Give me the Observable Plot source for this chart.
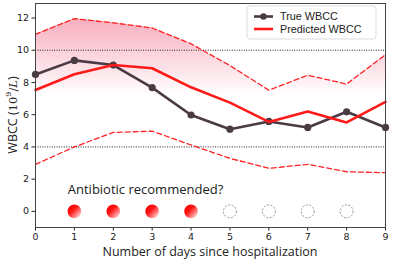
<!DOCTYPE html>
<html>
<head>
<meta charset="utf-8">
<script src="https://cdn.jsdelivr.net/npm/d3@7"></script>
<script src="https://cdn.jsdelivr.net/npm/@observablehq/plot@0.6"></script>
<style>
  html, body { margin: 0; padding: 0; background: #fff; }
  #chart svg { display: block; }
</style>
</head>
<body>
<div id="chart"></div>
<script>
const days = [0, 1, 2, 3, 4, 5, 6, 7, 8, 9];
const trueWBCC = [8.5, 9.37, 9.08, 7.68, 5.98, 5.1, 5.58, 5.21, 6.18, 5.21];
const predWBCC = [7.53, 8.51, 9.08, 8.88, 7.7, 6.75, 5.55, 6.2, 5.52, 6.8];
const upperBound = [10.99, 11.96, 11.7, 11.38, 10.4, 9.05, 7.52, 8.45, 7.9, 9.72];
const lowerBound = [2.92, 4.0, 4.9, 4.98, 4.12, 3.29, 2.67, 2.92, 2.46, 2.4];
const recDays = [1, 2, 3, 4, 5, 6, 7, 8];
const recommended = [true, true, true, true, false, false, false, false];
const thresholds = [10, 4];
const xTicks = [0, 1, 2, 3, 4, 5, 6, 7, 8, 9];
const yTicks = [0, 2, 4, 6, 8, 10, 12];

const rows = days.map((d, i) => ({day: d, t: trueWBCC[i], p: predWBCC[i], hi: upperBound[i], lo: lowerBound[i]}));
const recRows = recDays.map((d, i) => ({day: d, rec: recommended[i]}));

const plot = Plot.plot({
  width: 416,
  height: 260,
  marginLeft: 35,
  marginRight: 31,
  marginTop: 3,
  marginBottom: 33,
  style: {fontFamily: "DejaVu Sans", fontSize: "9.5px", color: "#222", background: "#fff"},
  x: {domain: [0, 9], ticks: xTicks, tickSize: 3.5, tickPadding: 2, label: null},
  y: {domain: [-1, 12.9], ticks: yTicks, tickSize: 3.5, tickPadding: 3, label: null},
  marks: [
    Plot.areaY(rows, {x: "day", y1: "lo", y2: "hi", fill: "url(#pinkGrad)"}),
    Plot.ruleY(thresholds, {stroke: "#222", strokeWidth: 1, strokeDasharray: "1,1.4"}),
    Plot.lineY(rows, {x: "day", y: "hi", stroke: "#ff2222", strokeWidth: 1.3, strokeDasharray: "5,3"}),
    Plot.lineY(rows, {x: "day", y: "lo", stroke: "#ff2222", strokeWidth: 1.3, strokeDasharray: "5,3"}),
    Plot.lineY(rows, {x: "day", y: "t", stroke: "#4a3a44", strokeWidth: 2.6}),
    Plot.dot(rows, {x: "day", y: "t", r: 3.6, fill: "#4a3a44"}),
    Plot.lineY(rows, {x: "day", y: "p", stroke: "#ff1a1a", strokeWidth: 2.6}),
    Plot.text(["Antibiotic recommended?"], {x: 0.83, y: 1.35, text: d => d, textAnchor: "start", fontSize: 13, fontFamily: "Open Sans", fill: "#222"}),
    Plot.dot(recRows.filter(d => d.rec), {x: "day", y: 0, r: 6.8, fill: "url(#redGrad)"}),
    Plot.dot(recRows.filter(d => !d.rec), {x: "day", y: 0, r: 6.5, fill: "none", stroke: "#888", strokeWidth: 0.9, strokeDasharray: "2,1.5"}),
    Plot.frame({stroke: "#444", strokeWidth: 1})
  ]
});

const svg = d3.select(plot);
const ys = plot.scale("y");
const defs = svg.insert("defs", ":first-child");
const pg = defs.append("linearGradient").attr("id", "pinkGrad")
  .attr("gradientUnits", "userSpaceOnUse")
  .attr("x1", 0).attr("x2", 0)
  .attr("y1", ys.apply(12.2)).attr("y2", ys.apply(7.2));
pg.append("stop").attr("offset", 0).attr("stop-color", "#f7a9bb");
pg.append("stop").attr("offset", 1).attr("stop-color", "#ffffff");
const rg = defs.append("linearGradient").attr("id", "redGrad")
  .attr("x1", 0.2).attr("y1", 0.2).attr("x2", 0.95).attr("y2", 0.95);
rg.append("stop").attr("offset", 0).attr("stop-color", "#ff0000");
rg.append("stop").attr("offset", 0.3).attr("stop-color", "#ff1a1a");
rg.append("stop").attr("offset", 1).attr("stop-color", "#ffe8ea");

// y-axis label
const yl = svg.append("text")
  .attr("transform", "translate(14,115) rotate(-90)")
  .attr("text-anchor", "middle")
  .attr("dominant-baseline", "middle")
  .attr("font-family", "Open Sans")
  .attr("font-size", 12.5)
  .attr("fill", "#222");
yl.append("tspan").text("WBCC (");
yl.append("tspan").attr("font-family", "DejaVu Serif").attr("font-size", 11.5).text("10");
yl.append("tspan").attr("font-family", "DejaVu Serif").attr("font-size", 8).attr("dy", -5).text("9");
yl.append("tspan").attr("font-family", "DejaVu Serif").attr("font-size", 11.5).attr("dy", 5).text("/");
yl.append("tspan").attr("font-family", "DejaVu Serif").attr("font-style", "italic").attr("font-size", 11.5).text("L");
yl.append("tspan").text(")");

// x-axis label
svg.append("text")
  .attr("x", 210).attr("y", 256)
  .attr("text-anchor", "middle")
  .attr("font-family", "Open Sans")
  .attr("font-size", 12.5)
  .attr("fill", "#222")
  .text("Number of days since hospitalization");

// legend
const lg = svg.append("g");
lg.append("rect").attr("x", 247).attr("y", 6).attr("width", 129).attr("height", 33)
  .attr("rx", 3).attr("fill", "#fff").attr("fill-opacity", 0.85).attr("stroke", "#ddd");
const legendItems = [{label: "True WBCC", color: "#4a3a44", dot: true}, {label: "Predicted WBCC", color: "#ff1a1a", dot: false}];
legendItems.forEach((it, i) => {
  const cy = 16.5 + i * 12.5;
  lg.append("line").attr("x1", 254).attr("x2", 273).attr("y1", cy).attr("y2", cy)
    .attr("stroke", it.color).attr("stroke-width", 2.6);
  if (it.dot) lg.append("circle").attr("cx", 263.5).attr("cy", cy).attr("r", 3.2).attr("fill", it.color);
  lg.append("text").attr("x", 280).attr("y", cy + 3.8)
    .attr("text-anchor", "start")
    .attr("font-family", "Liberation Sans").attr("font-size", 10.8).attr("fill", "#222").text(it.label);
});

document.getElementById("chart").appendChild(plot);
</script>
</body>
</html>
